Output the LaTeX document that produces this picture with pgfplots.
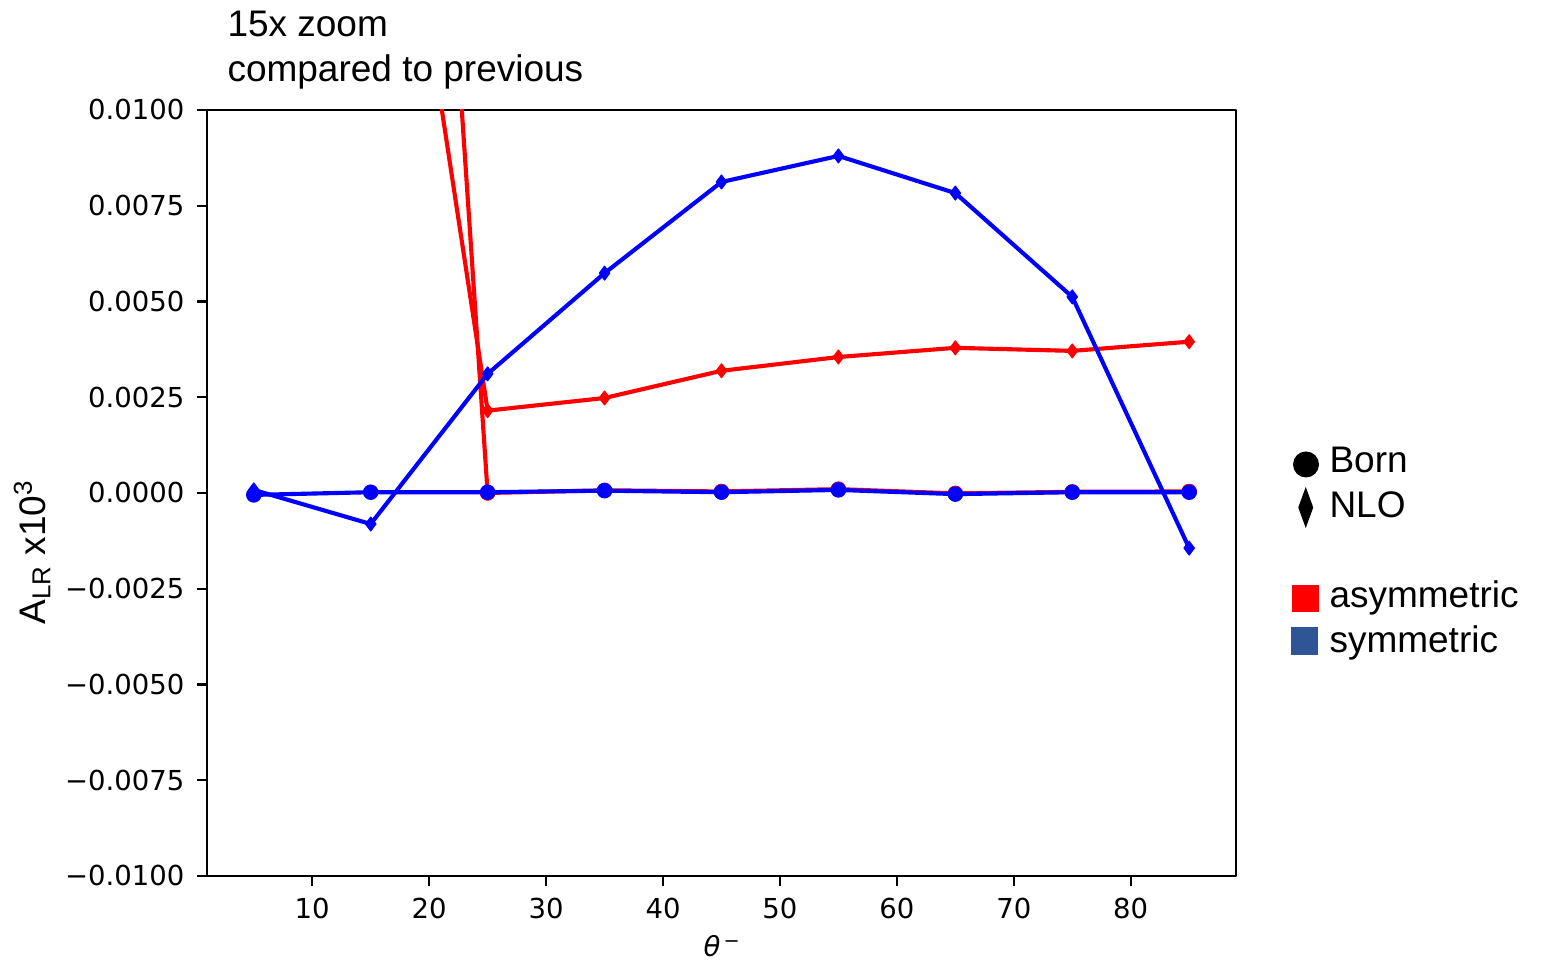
\documentclass[border=0pt]{standalone}
\usepackage{fontspec}
\setmainfont{Liberation Sans}
\newfontfamily\dejavu{DejaVu Sans}
\usepackage{pgfplots}
\pgfplotsset{compat=1.18}
\definecolor{legblue}{RGB}{47,85,151}
\begin{document}
\begin{tikzpicture}[x=1pt,y=1pt]
\useasboundingbox (0,0) rectangle (616.8,384.4);
\begin{axis}[
  at={(82.8pt,34pt)}, anchor=south west,
  scale only axis, width=411.6pt, height=306.4pt,
  xmin=1, xmax=89, ymin=-0.01, ymax=0.01,
  xtick={10,20,30,40,50,60,70,80},
  xticklabels={10,20,30,40,50,60,70,80},
  ytick={-0.01,-0.0075,-0.005,-0.0025,0,0.0025,0.005,0.0075,0.01},
  yticklabels={−0.0100,−0.0075,−0.0050,−0.0025,0.0000,0.0025,0.0050,0.0075,0.0100},
  scaled y ticks=false, scaled x ticks=false,
  tick pos=left, tick align=outside, major tick length=3.84pt,
  every tick/.style={black, line width=0.88pt},
  axis line style={line width=0.88pt},
  ticklabel style={font=\dejavu\fontsize{11}{13}\selectfont, inner sep=0pt},
  xticklabel style={yshift=-4.8pt},
  yticklabel style={xshift=-5pt},
  line join=round,
]
% asymmetric Born
\addplot[red, line width=1.65pt, mark=*, mark size=2.9pt, mark options={line width=0.4pt}]
  coordinates {(5,0.12)(15,0.04525)(25,0.0)(35,0.00007)(45,0.00004)(55,0.0001)(65,-0.00001)(75,0.00003)(85,0.00004)};
% asymmetric NLO
\addplot[red, line width=1.65pt, mark=diamond*, mark size=2.75pt, mark options={line width=0.5pt}]
  coordinates {(5,0.05)(15,0.0222)(25,0.00215)(35,0.00248)(45,0.00319)(55,0.00355)(65,0.00379)(75,0.00371)(85,0.00395)};
% symmetric Born
\addplot[blue, line width=1.65pt, mark=*, mark size=2.9pt, mark options={line width=0.4pt}]
  coordinates {(5,-0.00005)(15,0.00002)(25,0.00002)(35,0.00006)(45,0.00002)(55,0.00008)(65,-0.00003)(75,0.00002)(85,0.00002)};
% symmetric NLO
\addplot[blue, line width=1.65pt, mark=diamond*, mark size=2.75pt, mark options={line width=0.5pt}]
  coordinates {(5,0.00008)(15,-0.00081)(25,0.00311)(35,0.00574)(45,0.00812)(55,0.0088)(65,0.00783)(75,0.00512)(85,-0.00144)};
\end{axis}
\begin{scope}[every node/.style={inner sep=0pt, font=\fontsize{14.8}{17}\selectfont}]
\node[anchor=base west] at (90.8,369.6) {15x zoom};
\node[anchor=base west] at (90.8,351.6) {compared to previous};
\node[rotate=90, anchor=base west] at (18,134.4) {A\textsubscript{LR} x10\textsuperscript{3}};
\fill[black] (522.4,198.6) circle (5.2);
\node[anchor=base west] at (531.6,195.2) {Born};
\fill[black] (522.3,173.2) -- (525.3,181.4) -- (522.3,189.6) -- (519.3,181.4) -- cycle;
\node[anchor=base west] at (531.6,177.2) {NLO};
\fill[red] (516.8,139.6) rectangle (527.6,150.4);
\node[anchor=base west] at (531.6,141.2) {asymmetric};
\fill[legblue] (516.3,122.5) rectangle (527.3,133.5);
\node[anchor=base west] at (531.6,123.2) {symmetric};
\node[anchor=base west] at (281.2,1.6) {\dejavu\fontsize{11}{13}\selectfont\itshape θ\textsuperscript{\upshape\,−}};
\end{scope}
\end{tikzpicture}
\end{document}
